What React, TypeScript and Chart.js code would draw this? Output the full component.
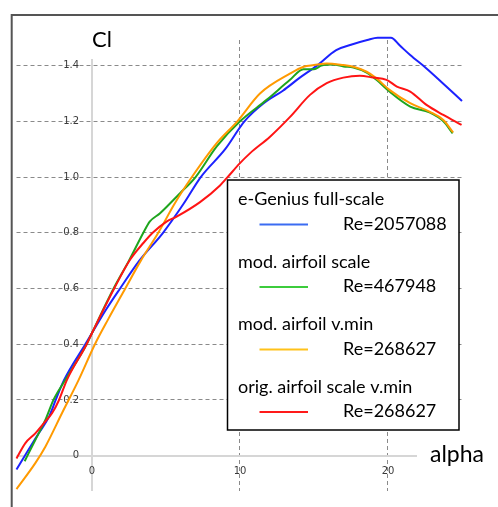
import React, { useEffect, useRef } from 'react';
import { Chart, registerables } from 'chart.js';

Chart.register(...registerables);

// ---- data ----
const seriesNames = ['e-Genius full-scale', 'mod. airfoil scale', 'mod. airfoil v.min', 'orig. airfoil scale v.min'];
const reynolds = ['Re=2057088', 'Re=467948', 'Re=268627', 'Re=268627'];
const lineColors = ['#1c22ff', '#1ea51e', '#ff9a00', '#ff1414'];
const legendColors = ['#3b6cf2', '#3ccc3c', '#ffc21a', '#ff1a1a'];

const blueAlpha = [-5.1, -4.3, -3.6, -2.9, -2.45, -1.9, -0.45, 0, 0.9, 1.9, 3.2, 4.8, 6.2, 7.35, 9.0, 10.3, 11.6, 12.9, 14.0, 15.2, 16.5, 17.5, 18.6, 19.3, 20.2, 20.8, 21.5, 22.6, 23.7, 25.0];
const blueCl = [-0.05, 0.02, 0.08, 0.14, 0.2, 0.27, 0.4, 0.44, 0.52, 0.6, 0.7, 0.8, 0.905, 1.0, 1.1, 1.2, 1.265, 1.31, 1.355, 1.4, 1.456, 1.475, 1.492, 1.5, 1.5, 1.472, 1.438, 1.39, 1.337, 1.273];

const greenAlpha = [-4.55, -3.83, -3.15, -2.6, -1.8, -0.36, 0, 1.46, 2.5, 3.47, 3.9, 4.6, 5.95, 7.0, 8.43, 10.0, 11.8, 13.38, 14.28, 15.0, 15.5, 16.3, 17.0, 17.66, 18.56, 19.2, 20.1, 21.5, 22.8, 23.74, 24.37];
const greenCl = [-0.02, 0.056, 0.128, 0.2, 0.272, 0.4, 0.44, 0.6, 0.7, 0.8, 0.84, 0.87, 0.942, 1.0, 1.11, 1.2, 1.277, 1.349, 1.387, 1.387, 1.4, 1.404, 1.397, 1.393, 1.375, 1.35, 1.307, 1.253, 1.232, 1.2, 1.157];

const orangeAlpha = [-5.1, -3.83, -3.15, -2.03, -0.9, 0.2, 1.1, 2.25, 3.3, 4.48, 5.6, 6.75, 8.4, 9.82, 11.35, 13.4, 14.3, 15.0, 15.86, 16.98, 17.66, 18.56, 19.2, 20.1, 21.5, 22.8, 23.74, 24.4];
const orangeCl = [-0.12, -0.027, 0.032, 0.152, 0.272, 0.4, 0.49, 0.6, 0.7, 0.8, 0.906, 1.0, 1.12, 1.2, 1.3, 1.372, 1.396, 1.402, 1.408, 1.402, 1.396, 1.378, 1.355, 1.313, 1.265, 1.235, 1.205, 1.16];

const redAlpha = [-5.1, -4.5, -3.83, -3.26, -2.7, -2.25, -1.69, -0.36, 0, 1.5, 2.57, 3.5, 4.1, 5.04, 5.72, 7.3, 8.65, 9.1, 10.0, 10.67, 12.03, 13.4, 14.73, 15.86, 16.98, 18.1, 19.0, 19.9, 20.6, 21.5, 22.6, 23.74, 24.97];
const redCl = [-0.01, 0.045, 0.08, 0.116, 0.152, 0.197, 0.272, 0.4, 0.44, 0.6, 0.703, 0.765, 0.8, 0.84, 0.858, 0.91, 0.97, 0.996, 1.05, 1.085, 1.145, 1.217, 1.295, 1.337, 1.357, 1.364, 1.357, 1.349, 1.325, 1.307, 1.259, 1.223, 1.187];

const xTitle = 'alpha';
const yTitle = 'Cl';

export default function App() {
  const ref = useRef<HTMLCanvasElement | null>(null);

  useEffect(() => {
    if (!ref.current) return;
    const series = [
      [blueAlpha, blueCl],
      [greenAlpha, greenCl],
      [orangeAlpha, orangeCl],
      [redAlpha, redCl],
    ];
    const datasets = series.map(([a, c], i) => ({
      label: seriesNames[i],
      data: a.map((x, k) => ({ x, y: c[k] })),
      borderColor: lineColors[i],
      backgroundColor: lineColors[i],
      borderWidth: 2,
      pointRadius: 0,
      fill: false,
      cubicInterpolationMode: 'monotone' as const,
      clip: false as const,
      order: 4 - i,
    }));

    const tickFontCss = '10px "DejaVu Sans", Tahoma, sans-serif';

    const decor = {
      id: 'decor',
      beforeDraw(chart: any) {
        const ctx = chart.ctx;
        ctx.save();
        ctx.fillStyle = '#ffffff';
        ctx.fillRect(0, 0, chart.width, chart.height);
        ctx.strokeStyle = '#555555';
        ctx.lineWidth = 2;
        ctx.beginPath();
        ctx.moveTo(10.7, 15);
        ctx.lineTo(chart.width, 15);
        ctx.moveTo(11.7, 14);
        ctx.lineTo(11.7, chart.height);
        ctx.stroke();
        ctx.restore();
      },
      afterDraw(chart: any) {
        const ctx = chart.ctx;
        const xs = chart.scales.x;
        const ys = chart.scales.y;
        const x0 = xs.getPixelForValue(0);
        const y0 = ys.getPixelForValue(0);
        ctx.save();
        // x tick labels, placed by the x scale
        ctx.fillStyle = '#3a3a3a';
        ctx.font = tickFontCss;
        ctx.textAlign = 'center';
        ctx.textBaseline = 'middle';
        xs.ticks.forEach((t: any) => {
          ctx.fillText(String(t.value), xs.getPixelForValue(t.value), y0 + 15.5);
        });
        // masks around axis titles
        ctx.fillStyle = '#ffffff';
        ctx.fillRect(x0 - 4, chart.chartArea.top - 2, 8, 21);
        ctx.fillRect(417, y0 - 4, chart.chartArea.right - 417 + 2, 8);
        ctx.fillStyle = '#000000';
        ctx.font = '22px Lato, "Open Sans", sans-serif';
        ctx.textBaseline = 'alphabetic';
        ctx.textAlign = 'left';
        ctx.fillText(yTitle, x0, 47);
        ctx.font = '23px Lato, "Open Sans", sans-serif';
        ctx.fillText(xTitle, 430, 462);

        // legend
        const bx = 227.5, by = 180, bw = 231.5, bh = 250;
        ctx.fillStyle = '#ffffff';
        ctx.fillRect(bx, by, bw, bh);
        ctx.strokeStyle = '#000000';
        ctx.lineWidth = 1.5;
        ctx.strokeRect(bx, by, bw, bh);
        ctx.font = '18px Lato, "Open Sans", sans-serif';
        ctx.textBaseline = 'middle';
        seriesNames.forEach((name, i) => {
          const ny = 199.5 + 62.5 * i;
          const ry = 224 + 62.5 * i;
          ctx.fillStyle = '#000000';
          ctx.fillText(name, 238, ny);
          ctx.fillText(reynolds[i], 343, ry);
          ctx.strokeStyle = legendColors[i];
          ctx.lineWidth = 2;
          ctx.beginPath();
          ctx.moveTo(259.5, ry + 0.5);
          ctx.lineTo(308, ry + 0.5);
          ctx.stroke();
        });
        ctx.restore();
      },
    };

    const isZero = (c: any) => c.tick && Math.abs(c.tick.value) < 1e-9;
    const gridColor = (c: any) => (isZero(c) ? '#d6d6d6' : '#8a8a8a');
    const gridWidth = (c: any) => (isZero(c) ? 2 : 1);
    const gridDash = (c: any) => (isZero(c) ? [] : [4, 3]);
    const tickFont = { family: '"DejaVu Sans", Tahoma, sans-serif', size: 10 };

    const chart = new Chart(ref.current, {
      type: 'line',
      data: { datasets: datasets as any },
      options: {
        animation: false,
        responsive: false,
        events: [],
        layout: { padding: { left: 16.5, right: 36, top: 40, bottom: 16 } },
        plugins: {
          legend: { display: false },
          tooltip: { enabled: false },
          title: { display: false },
        },
        scales: {
          x: {
            type: 'linear',
            min: -5.1,
            max: 25,
            position: { y: 0 } as any,
            afterFit: (s: any) => { s.height = 0; },
            ticks: {
              display: false,
              stepSize: 10,
              includeBounds: false,
              maxRotation: 0,
              autoSkip: false,
            },
            grid: { color: gridColor, lineWidth: gridWidth, drawTicks: false },
            border: { display: false, dash: gridDash },
          },
          y: {
            type: 'linear',
            min: -0.127,
            max: 1.492,
            position: { x: -0.87 } as any,
            afterFit: (s: any) => { s.width = 0; },
            ticks: {
              stepSize: 0.2,
              includeBounds: false,
              padding: 0,
              color: '#3a3a3a',
              font: tickFont,
              autoSkip: false,
              callback: (v: any) => (Math.abs(v) < 1e-9 ? '0' : Number(v).toFixed(1)),
            },
            grid: { color: gridColor, lineWidth: gridWidth, drawTicks: false },
            border: { display: false, dash: gridDash },
          },
        },
      },
      plugins: [decor],
    });
    return () => chart.destroy();
  }, []);

  return (
    <div style={{ position: 'fixed', left: 0, top: 0, width: 498, height: 507, background: '#fff' }}>
      <canvas ref={ref} width={498} height={507} style={{ display: 'block', width: 498, height: 507 }} />
    </div>
  );
}
